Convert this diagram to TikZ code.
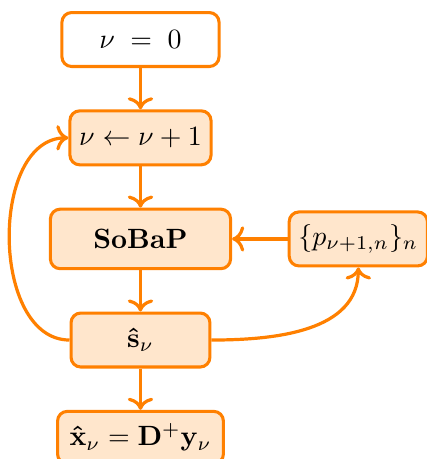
\documentclass[tikz,border=0pt]{standalone}
\usepackage{amsmath,amssymb}
\usepackage{xcolor}
\usepackage{tikz}
\usetikzlibrary{arrows.meta,positioning}
\definecolor{flowline}{RGB}{255,128,0}

\begin{document}
\begin{tikzpicture}[
    node distance=0.52cm and 0.7cm,
    box/.style={draw=flowline, line width=1.1pt, rounded corners=3.5pt, align=center, minimum height=0.68cm, fill=flowline!20},
    startbox/.style={box, fill=white, minimum width=1.98cm},
    arrow/.style={-{To[scale=1.05]}, draw=flowline, line width=1.15pt}
]
\useasboundingbox (0,0) rectangle (5.368,-5.783);
\node[startbox] (init) at (1.77,-0.498) {$\nu \;=\; 0$};
\node[box, minimum width=1.76cm, below=of init] (incr) {$\nu \leftarrow \nu+1$};
\node[box, minimum width=2.27cm, minimum height=0.75cm, below=of incr] (sobap) {\textbf{SoBaP}};
\node[box, minimum width=1.73cm, right=of sobap] (probs) {$\{p_{\nu+1,n}\}_n$};
\node[box, minimum width=1.75cm, below=of sobap] (shat) {$\boldsymbol{\hat{\mathbf{s}}}_\nu$};
\node[box, minimum width=2.09cm, minimum height=0.66cm, below=of shat] (xhat) {$\boldsymbol{\hat{\mathbf{x}}}_\nu = \mathbf{D}^{+}\mathbf{y}_\nu$};
\draw[arrow] (init) -- (incr);
\draw[arrow] (incr) -- (sobap);
\draw[arrow] (probs) -- (sobap);
\draw[arrow] (sobap) -- (shat);
\draw[arrow] (shat) -- (xhat);
\draw[arrow] (shat.west) to[out=180, in=180] (incr.west);
\draw[arrow] (shat.east) to[out=0, in=-90] (probs.south);
\end{tikzpicture}
\end{document}
